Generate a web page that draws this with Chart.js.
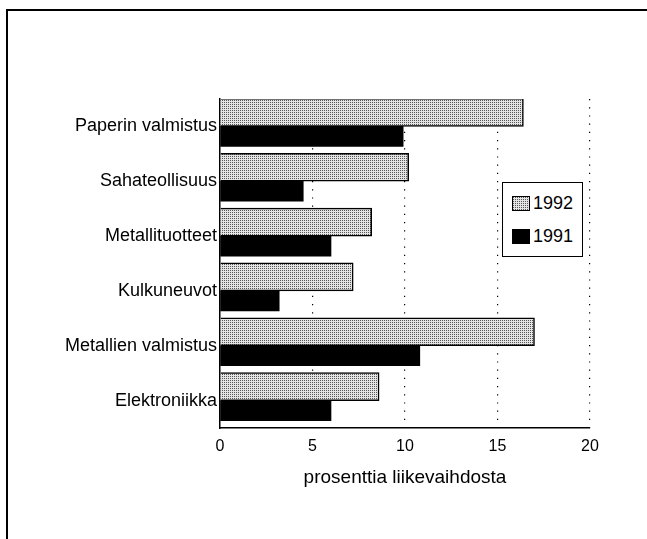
<!DOCTYPE html>
<html>
<head>
<meta charset="utf-8">
<script src="https://cdn.jsdelivr.net/npm/chart.js@4"></script>
<style>
  html, body { margin: 0; padding: 0; background: #fff; overflow: hidden; }
  #Kehys { position: absolute; left: 6px; top: 9px; width: 660px; height: 560px; border-top: 2px solid #000; border-left: 2px solid #000; pointer-events: none; }
  #Selite { position: absolute; left: 502px; top: 182px; width: 79px; height: 73px; border: 1.5px solid #000; background: #fff; font: 18px "Liberation Sans", Arial, sans-serif; color: #000; }
  .Rivi { position: absolute; left: 9px; height: 18px; line-height: 18px; white-space: nowrap; }
  .Ruutu { display: inline-block; width: 18px; height: 15px; vertical-align: -2px; margin-right: 3px; box-sizing: border-box; }
</style>
</head>
<body>
<canvas id="Kaavio" width="647" height="539"></canvas>
<div id="Kehys"></div>
<div id="Selite"></div>
<script>
const Toimialat = ['Paperin valmistus', 'Sahateollisuus', 'Metallituotteet', 'Kulkuneuvot', 'Metallien valmistus', 'Elektroniikka'];
const Vuodet    = ['1992', '1991'];
const Arvot1992 = [16.4, 10.2, 8.2, 7.2, 17.0, 8.6];
const Arvot1991 = [9.9, 4.5, 6.0, 3.2, 10.8, 6.0];
const XTiks     = [0, 5, 10, 15, 20];

const Fontti = '"Liberation Sans", Arial, sans-serif';

// rasterikuvio harmaalle palkille
function Rasteri() {
  const C = document.createElement('canvas');
  C.width = 2; C.height = 2;
  const X = C.getContext('2d');
  X.fillStyle = '#e4e4e4';
  X.fillRect(0, 0, 2, 2);
  X.fillStyle = '#555';
  X.fillRect(0, 0, 1, 1);
  return C;
}
const RasteriCanvas = Rasteri();
const Kuvio = document.getElementById('Kaavio').getContext('2d').createPattern(RasteriCanvas, 'repeat');

new Chart(document.getElementById('Kaavio').getContext('2d'), {
  type: 'bar',
  data: {
    labels: Toimialat,
    datasets: [
      {
        label: Vuodet[0],
        data: Arvot1992,
        backgroundColor: Kuvio,
        borderColor: '#000',
        borderWidth: 1.5,
        barThickness: 28
      },
      {
        label: Vuodet[1],
        data: Arvot1991,
        backgroundColor: '#000',
        borderWidth: 0,
        barThickness: 20
      }
    ]
  },
  options: {
    indexAxis: 'y',
    responsive: false,
    animation: false,
    devicePixelRatio: 1,
    categoryPercentage: 0.875,
    layout: { padding: { left: 0, top: 99, right: 57, bottom: 0 } },
    plugins: { legend: { display: false }, tooltip: { enabled: false } },
    scales: {
      x: {
        min: 0, max: 20,
        afterBuildTicks: S => { S.ticks = XTiks.map(V => ({ value: V })); },
        afterFit: S => { S.height = 111; },
        grid: {
          color: C => (C.tick && C.tick.value === 0 ? 'rgba(0,0,0,0)' : '#000'),
          lineWidth: 1.2,
          drawTicks: false
        },
        border: { display: true, color: '#000', width: 1.5, dash: [1.2, 7] },
        ticks: { color: '#000', padding: 9, font: { family: Fontti, size: 16 } },
        title: {
          display: true,
          text: 'prosenttia liikevaihdosta',
          color: '#000',
          font: { family: Fontti, size: 19 },
          padding: { top: 0, bottom: 50 }
        }
      },
      y: {
        afterFit: S => { S.width = 220; },
        grid: { drawOnChartArea: false, drawTicks: false },
        border: { display: true, color: '#000', width: 1.5 },
        ticks: { color: '#000', padding: 3, font: { family: Fontti, size: 18 } }
      }
    }
  }
});

// selite
const Selite = document.getElementById('Selite');
const Taustat = ['url(' + RasteriCanvas.toDataURL() + ')', '#000'];
Vuodet.forEach((V, I) => {
  const Rivi = document.createElement('div');
  Rivi.className = 'Rivi';
  Rivi.style.top = (11 + I * 33) + 'px';
  const Ruutu = document.createElement('span');
  Ruutu.className = 'Ruutu';
  Ruutu.style.background = Taustat[I];
  if (I === 0) Ruutu.style.border = '1px solid #000';
  Rivi.appendChild(Ruutu);
  Rivi.appendChild(document.createTextNode(V));
  Selite.appendChild(Rivi);
});
</script>
</body>
</html>
